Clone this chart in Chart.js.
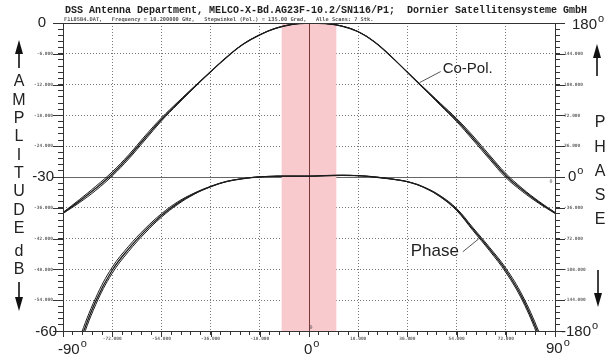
<!DOCTYPE html>
<html>
<head>
<meta charset="utf-8">
<script src="https://cdn.jsdelivr.net/npm/chart.js@4"></script>
<style>
  html, body { margin: 0; padding: 0; background: #fff; }
  #wrap { width: 611px; height: 358px; }
</style>
</head>
<body>
<div id="wrap"><canvas id="chart" width="611" height="358"></canvas></div>
<script>
/* ---- data ---- */
var angles = [-90, -84, -78, -72, -66, -60, -54, -48, -42, -36, -30, -24, -18, -12, -6, 0,
              6, 12, 18, 24, 30, 36, 42, 48, 54, 60, 66, 72, 78, 84, 90];

// Co-Pol. amplitude (dB), three of the overlapping scans
var coPolScan1 = [-37.0, -34.7, -32.2, -29.4, -26.1, -22.4, -18.8, -15.6, -12.5, -9.5, -6.6, -4.1, -2.3, -1.0, -0.25, 0,
                  -0.1, -0.6, -1.7, -3.7, -6.5, -9.6, -12.7, -15.8, -18.9, -22.4, -26.1, -29.7, -32.5, -34.9, -37.0];
var coPolScan2 = [-36.9, -34.4, -31.8, -29.0, -25.7, -22.0, -18.5, -15.4, -12.4, -9.5, -6.6, -4.1, -2.3, -1.0, -0.25, 0,
                  -0.1, -0.6, -1.7, -3.7, -6.5, -9.6, -12.6, -15.6, -18.6, -22.0, -25.7, -29.3, -32.2, -34.7, -36.9];
var coPolScan3 = [-37.1, -35.0, -32.6, -29.8, -26.5, -22.8, -19.1, -15.8, -12.6, -9.5, -6.6, -4.1, -2.3, -1.0, -0.25, 0,
                  -0.1, -0.6, -1.7, -3.7, -6.5, -9.6, -12.8, -16.0, -19.2, -22.8, -26.5, -30.1, -32.8, -35.1, -37.1];

// Phase (deg), three of the overlapping scans
var phaseScan1 = [-250, -194, -145, -109, -84, -63, -45, -30.5, -19.5, -11.2, -5.2, -1.8, 0.2, 0.9, 1.0, 1.0,
                  1.5, 2.0, 1.5, 0, -2.3, -5.5, -12, -22.5, -38, -61, -84, -109, -141, -184, -235];
var phaseScan2 = [-245, -189, -141, -105.5, -81, -60.5, -43, -29, -18.8, -11, -5.2, -1.8, 0.2, 0.9, 1.0, 1.0,
                  1.5, 2.0, 1.5, 0, -2.3, -5.5, -11.7, -21.8, -36.8, -59.3, -82, -106.5, -138, -180, -230];
var phaseScan3 = [-255, -199, -149, -112.5, -87, -65.5, -47, -32, -20.2, -11.4, -5.2, -1.8, 0.2, 0.9, 1.0, 1.0,
                  1.5, 2.0, 1.5, 0, -2.3, -5.5, -12.3, -23.2, -39.2, -62.7, -86, -111.5, -144, -188, -240];

// axis ticks
var ampTickValues = [-6, -12, -18, -24, -36, -42, -48, -54];
var phaseTickValues = [144, 108, 72, 36, -36, -72, -108, -144];
var angleTickValues = [-72, -54, -36, -18, 18, 36, 54, 72];
var ampBigLabels = ['0', '-30', '-60'];
var phaseBigLabels = ['180', '0', '-180'];
var angleBigLabels = ['-90', '0', '90'];
var bandAngles = [-10, 10];

var titleText = 'DSS Antenna Department, MELCO-X-Bd.AG23F-10.2/SN116/P1;  Dornier Satellitensysteme GmbH';
var subTitleText = 'F1L05B4.DAT,   Frequency = 10.200000 GHz,   Stepwinkel (Pol.) = 135.00 Grad,   Alle Scans: 7 Stk.';

/* ---- helpers ---- */
var BIG = '15px "Liberation Sans", Arial, sans-serif';
var SUP = '11px "Liberation Sans", Arial, sans-serif';
var LETTER = '16px "Liberation Sans", Arial, sans-serif';
var TINY = { family: 'DejaVu Sans Mono', size: 4.5, weight: 'bold' };

function isIn(list, v) {
  return list.some(function(t) { return Math.abs(t - v) < 1e-6; });
}
function isMultiple(v, step) {
  return Math.abs(Math.round(v / step) * step - v) < 1e-6;
}
function toPoints(arr) {
  return angles.map(function(a, i) { return { x: a, y: arr[i] }; });
}

function degText(ctx, num, left, y) {
  ctx.font = BIG;
  ctx.textAlign = 'left';
  ctx.textBaseline = 'middle';
  ctx.fillText(num, left, y);
  var w = ctx.measureText(num).width;
  ctx.font = SUP;
  ctx.fillText('o', left + w + 1, y - 6);
}

function arrow(ctx, x, y0, y1) {
  // stem from y0 to tip y1
  var dir = y1 > y0 ? 1 : -1;
  ctx.beginPath();
  ctx.moveTo(x, y0);
  ctx.lineTo(x, y1 - dir * 12);
  ctx.stroke();
  ctx.beginPath();
  ctx.moveTo(x, y1);
  ctx.lineTo(x - 4, y1 - dir * 14);
  ctx.lineTo(x + 4, y1 - dir * 14);
  ctx.closePath();
  ctx.fill();
}

/* ---- decoration plugin ---- */
var decor = {
  id: 'decor',
  beforeDatasetsDraw: function(chart) {
    var ctx = chart.ctx, a = chart.chartArea, x = chart.scales.x;
    ctx.save();
    var x0 = x.getPixelForValue(bandAngles[0]);
    var x1 = x.getPixelForValue(bandAngles[1]);
    ctx.fillStyle = '#F8CACE';
    ctx.fillRect(x0, a.top, x1 - x0, a.bottom - a.top);
    var xc = Math.round(x.getPixelForValue(0)) + 0.5;
    ctx.strokeStyle = '#7a3a3a';
    ctx.lineWidth = 1;
    ctx.beginPath();
    ctx.moveTo(xc, a.top);
    ctx.lineTo(xc, a.bottom);
    ctx.stroke();
    ctx.restore();
  },
  afterDraw: function(chart) {
    var ctx = chart.ctx, a = chart.chartArea;
    var x = chart.scales.x, y = chart.scales.y, y2 = chart.scales.y2;
    ctx.save();

    // frame
    ctx.strokeStyle = '#333';
    ctx.lineWidth = 1;
    ctx.strokeRect(Math.round(a.left) + 0.5, Math.round(a.top) + 0.5,
                   Math.round(a.right - a.left), Math.round(a.bottom - a.top));

    // longer major ticks
    ctx.beginPath();
    [0, -6, -12, -18, -24, -30, -36, -42, -48, -54, -60].forEach(function(v) {
      var py = Math.round(y.getPixelForValue(v)) + 0.5;
      ctx.moveTo(a.left - 10, py); ctx.lineTo(a.left, py);
    });
    [180, 144, 108, 72, 36, 0, -36, -72, -108, -144, -180].forEach(function(v) {
      var py = Math.round(y2.getPixelForValue(v)) + 0.5;
      ctx.moveTo(a.right, py); ctx.lineTo(a.right + 10, py);
    });
    [-90, -72, -54, -36, -18, 0, 18, 36, 54, 72, 90].forEach(function(v) {
      var px = Math.round(x.getPixelForValue(v)) + 0.5;
      ctx.moveTo(px, a.bottom); ctx.lineTo(px, a.bottom + 6);
    });
    ctx.stroke();

    // titles
    ctx.fillStyle = '#222';
    ctx.textBaseline = 'middle';
    ctx.textAlign = 'left';
    ctx.font = 'bold 10px "Liberation Mono", monospace';
    ctx.fillText(titleText, 65, 10);
    ctx.font = 'bold 5.3px "DejaVu Sans Mono", monospace';
    ctx.fillStyle = '#555';
    ctx.fillText(subTitleText, 64, 19.5);

    // big left labels
    ctx.fillStyle = '#222';
    ctx.font = BIG;
    ctx.textAlign = 'right';
    ctx.fillText(ampBigLabels[0], 46, y.getPixelForValue(0));
    ctx.fillText(ampBigLabels[1], 54, y.getPixelForValue(-30));
    ctx.fillText(ampBigLabels[2], 57, y.getPixelForValue(-60) + 1);

    // big right labels
    degText(ctx, phaseBigLabels[0], 572, y2.getPixelForValue(180) + 2);
    degText(ctx, phaseBigLabels[1], 568, y2.getPixelForValue(0));
    degText(ctx, phaseBigLabels[2], 561, y2.getPixelForValue(-180) + 1);

    // big bottom labels
    degText(ctx, angleBigLabels[0], x.getPixelForValue(-90) - 5, 350);
    degText(ctx, angleBigLabels[1], x.getPixelForValue(0) - 5, 350);
    degText(ctx, angleBigLabels[2], x.getPixelForValue(90) - 9, 349);

    // vertical axis titles
    ctx.font = LETTER;
    ctx.textAlign = 'center';
    var left = ['A', 'M', 'P', 'L', 'I', 'T', 'U', 'D', 'E'];
    left.forEach(function(ch, i) { ctx.fillText(ch, 19, 82 + i * 18.3); });
    ctx.fillText('d', 19, 252);
    ctx.fillText('B', 19, 270);
    var right = ['P', 'H', 'A', 'S', 'E'];
    right.forEach(function(ch, i) { ctx.fillText(ch, 600, 123 + i * 24.2); });

    ctx.strokeStyle = '#111';
    ctx.fillStyle = '#111';
    ctx.lineWidth = 1.6;
    arrow(ctx, 19, 68, 40);
    arrow(ctx, 19, 282, 311);
    arrow(ctx, 597, 76, 44);
    arrow(ctx, 598, 270, 307);

    // curve annotations
    ctx.strokeStyle = '#555';
    ctx.lineWidth = 1;
    var cx = x.getPixelForValue(40.5), cy = y.getPixelForValue(-11.6);
    ctx.beginPath(); ctx.moveTo(cx, cy); ctx.lineTo(cx + 21, cy - 11); ctx.stroke();
    ctx.fillStyle = '#222';
    ctx.font = '15px "Liberation Sans", Arial, sans-serif';
    ctx.textAlign = 'left';
    ctx.fillText('Co-Pol.', cx + 23, cy - 14);

    var px2 = x.getPixelForValue(62.5), py2 = y2.getPixelForValue(-71);
    ctx.beginPath(); ctx.moveTo(px2 - 1, py2 + 1); ctx.lineTo(px2 - 17, py2 + 14); ctx.stroke();
    ctx.font = '17px "Liberation Sans", Arial, sans-serif';
    ctx.textAlign = 'right';
    ctx.fillText('Phase', px2 - 21, py2 + 14);

    // tiny markers
    ctx.font = '5px "DejaVu Sans Mono", monospace';
    ctx.fillStyle = '#555';
    ctx.textAlign = 'center';
    ctx.fillText('0', x.getPixelForValue(90) - 4, y2.getPixelForValue(0) + 5);
    ctx.fillText('0', x.getPixelForValue(0) + 2, y.getPixelForValue(-60) - 3);

    ctx.restore();
  }
};

/* ---- chart ---- */
function scanSet(data, axis, width) {
  return {
    data: toPoints(data),
    yAxisID: axis,
    borderColor: '#1c1c1c',
    borderWidth: width,
    pointRadius: 0,
    fill: false,
    tension: 0.4
  };
}

var gridDot = [1, 2];

new Chart(document.getElementById('chart'), {
  type: 'line',
  data: {
    datasets: [
      scanSet(coPolScan2, 'y', 1),
      scanSet(coPolScan3, 'y', 1),
      scanSet(coPolScan1, 'y', 1.3),
      scanSet(phaseScan2, 'y2', 1),
      scanSet(phaseScan3, 'y2', 1),
      scanSet(phaseScan1, 'y2', 1.3)
    ]
  },
  options: {
    responsive: false,
    animation: false,
    devicePixelRatio: 1,
    layout: { padding: { top: 23, left: 0, right: 0, bottom: 0 } },
    plugins: { legend: { display: false }, tooltip: { enabled: false } },
    scales: {
      x: {
        type: 'linear', min: -90, max: 90,
        afterFit: function(s) { s.height = 27; },
        border: {
          display: false,
          dash: function(c) { return gridDot; }
        },
        grid: {
          color: function(c) {
            var v = c.tick.value;
            return (isMultiple(v, 18) && Math.abs(v) !== 90 && v !== 0) ? '#777' : 'rgba(0,0,0,0)';
          },
          tickColor: '#333', tickLength: 4, lineWidth: 1
        },
        ticks: {
          stepSize: 3.6, autoSkip: false, maxRotation: 0, padding: 1,
          font: TINY, color: '#666',
          callback: function(v) { return isIn(angleTickValues, v) ? v.toFixed(3) : ''; }
        }
      },
      y: {
        type: 'linear', position: 'left', min: -60, max: 0,
        afterFit: function(s) { s.width = 63; },
        border: {
          display: false,
          dash: function(c) { return c.tick && c.tick.value === -30 ? [] : gridDot; }
        },
        grid: {
          color: function(c) {
            var v = c.tick.value;
            if (Math.abs(v + 30) < 1e-6) return '#666';
            return (isMultiple(v, 6) && v !== 0 && v !== -60) ? '#777' : 'rgba(0,0,0,0)';
          },
          tickColor: '#333', tickLength: 5, lineWidth: 1
        },
        ticks: {
          stepSize: 1.2, autoSkip: false, padding: 5,
          font: TINY, color: '#666',
          callback: function(v) { return isIn(ampTickValues, v) ? v.toFixed(3) : ''; }
        }
      },
      y2: {
        type: 'linear', position: 'right', min: -180, max: 180,
        afterFit: function(s) { s.width = 56; },
        border: { display: false },
        grid: { drawOnChartArea: false, tickColor: '#333', tickLength: 5 },
        ticks: {
          stepSize: 7.2, autoSkip: false, padding: 4,
          font: TINY, color: '#666',
          callback: function(v) { return isIn(phaseTickValues, v) ? v.toFixed(3) : ''; }
        }
      }
    }
  },
  plugins: [decor]
});
</script>
</body>
</html>
